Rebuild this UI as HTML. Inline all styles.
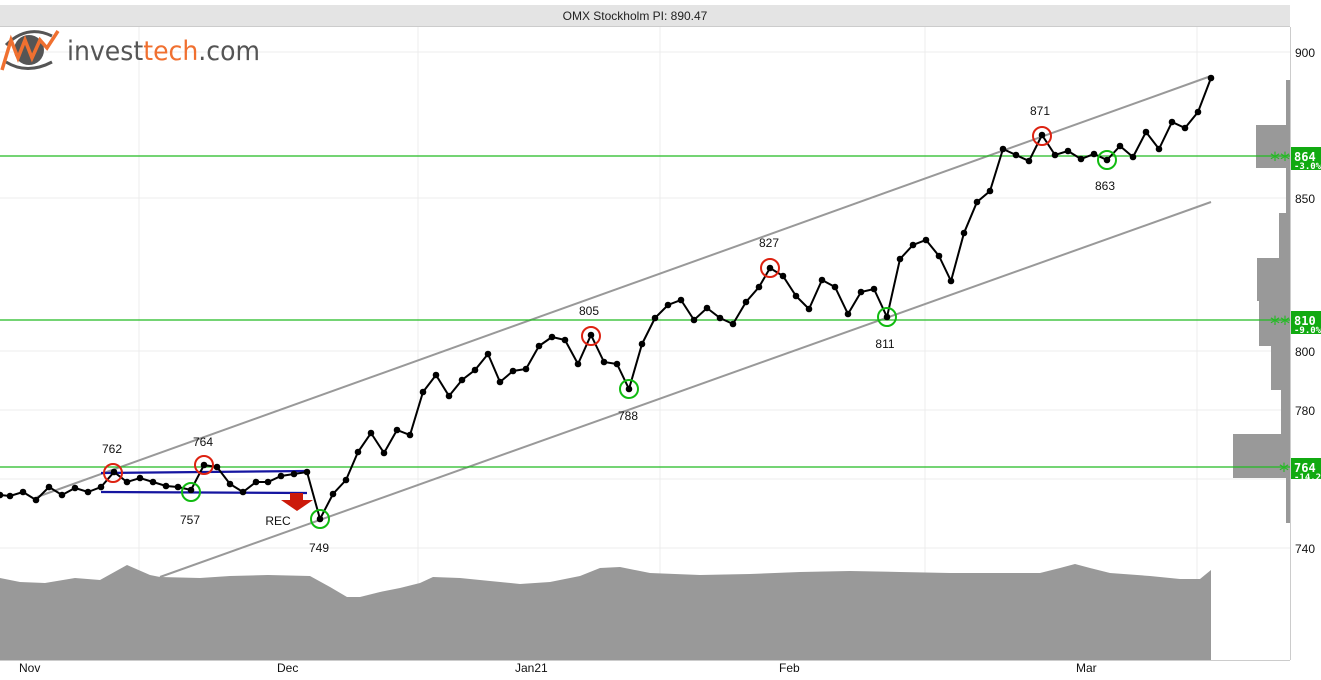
<!DOCTYPE html>
<html><head><style>
body{margin:0;background:#fff;}
svg{display:block;font-family:"Liberation Sans",sans-serif;}
</style></head><body>
<svg width="1321" height="680" viewBox="0 0 1321 680" xmlns="http://www.w3.org/2000/svg">
<rect x="0" y="0" width="1321" height="680" fill="#fff"/>
<rect x="0" y="5" width="1290" height="22" fill="#e4e4e4"/>
<line x1="0" y1="26.5" x2="1290" y2="26.5" stroke="#ccc"/>
<text x="635" y="20" font-size="12" text-anchor="middle" fill="#222">OMX Stockholm PI: 890.47</text>
<!-- grid -->
<g stroke="#ececec" stroke-width="1">
<line x1="0" y1="52" x2="1290" y2="52"/><line x1="0" y1="198" x2="1290" y2="198"/>
<line x1="0" y1="351" x2="1290" y2="351"/><line x1="0" y1="410" x2="1290" y2="410"/>
<line x1="0" y1="479" x2="1290" y2="479"/><line x1="0" y1="548" x2="1290" y2="548"/>
<line x1="139" y1="27" x2="139" y2="660"/><line x1="418" y1="27" x2="418" y2="660"/>
<line x1="660" y1="27" x2="660" y2="660"/><line x1="925" y1="27" x2="925" y2="660"/>
<line x1="1197" y1="27" x2="1197" y2="660"/>
</g>
<line x1="1290.5" y1="27" x2="1290.5" y2="660" stroke="#ccc"/>
<line x1="0" y1="660.5" x2="1290" y2="660.5" stroke="#ccc"/>
<!-- volume -->
<polygon fill="#999" points="0,660 0,578 20,582 45,583 75,578 100,580 127,565 150,575 160,577 200,578 230,576 268,575 310,576 330,587 347,597 360,597 380,592 400,588 420,583 433,577 460,578 490,581 520,584 550,582 580,576 600,568 620,567 650,573 700,575 750,574 800,572 850,571 900,572 950,573 1000,573 1040,573 1060,568 1075,564 1090,568 1110,573 1150,576 1180,579 1200,579 1211,570 1211,660"/>
<!-- volume profile -->
<g fill="#999">
<rect x="1286" y="80" width="4" height="45"/>
<rect x="1256" y="125" width="34" height="43"/>
<rect x="1286" y="168" width="4" height="45"/>
<rect x="1279" y="213" width="11" height="45"/>
<rect x="1257" y="258" width="33" height="43"/>
<rect x="1259" y="301" width="31" height="45"/>
<rect x="1271" y="346" width="19" height="44"/>
<rect x="1281" y="390" width="9" height="44"/>
<rect x="1233" y="434" width="57" height="44"/>
<rect x="1286" y="478" width="4" height="45"/>
</g>
<!-- channel -->
<line x1="37" y1="497" x2="1211" y2="76" stroke="#999" stroke-width="2"/>
<line x1="160" y1="577" x2="1211" y2="202" stroke="#999" stroke-width="2"/>
<!-- support/resistance -->
<g stroke="#22bb22" stroke-width="1.3">
<line x1="0" y1="156" x2="1290" y2="156"/>
<line x1="0" y1="320" x2="1290" y2="320"/>
<line x1="0" y1="467" x2="1290" y2="467"/>
</g>
<!-- rectangle -->
<g stroke="#1515a0" stroke-width="2.2">
<line x1="101" y1="473" x2="307" y2="471"/>
<line x1="101" y1="492" x2="307" y2="493"/>
</g>
<polygon fill="#cc1a0a" points="290,493 303,493 303,500 313,500 297,511 281,500 290,500"/>
<!-- price -->
<polyline fill="none" stroke="#000" stroke-width="2" points="0,495 10,496 23,492 36,500 49,487 62,495 75,488 88,492 101,487 114,472 127,482 140,478 153,482 166,486 178,487 191,490 204,465 217,467 230,484 243,492 256,482 268,482 281,476 294,474 307,472 320,519 333,494 346,480 358,452 371,433 384,453 397,430 410,435 423,392 436,375 449,396 462,380 475,370 488,354 500,382 513,371 526,369 539,346 552,337 565,340 578,364 591,335 604,362 617,364 629,389 642,344 655,318 668,305 681,300 694,320 707,308 720,318 733,324 746,302 759,287 770,268 783,276 796,296 809,309 822,280 835,287 848,314 861,292 874,289 887,317 900,259 913,245 926,240 939,256 951,281 964,233 977,202 990,191 1003,149 1016,155 1029,161 1042,135 1055,155 1068,151 1081,159 1094,154 1107,160 1120,146 1133,157 1146,132 1159,149 1172,122 1185,128 1198,112 1211,78"/>
<g fill="#000">
<circle cx="0" cy="495" r="3.3"/><circle cx="10" cy="496" r="3.3"/><circle cx="23" cy="492" r="3.3"/><circle cx="36" cy="500" r="3.3"/><circle cx="49" cy="487" r="3.3"/><circle cx="62" cy="495" r="3.3"/><circle cx="75" cy="488" r="3.3"/><circle cx="88" cy="492" r="3.3"/><circle cx="101" cy="487" r="3.3"/><circle cx="114" cy="472" r="3.3"/><circle cx="127" cy="482" r="3.3"/><circle cx="140" cy="478" r="3.3"/><circle cx="153" cy="482" r="3.3"/><circle cx="166" cy="486" r="3.3"/><circle cx="178" cy="487" r="3.3"/><circle cx="191" cy="490" r="3.3"/><circle cx="204" cy="465" r="3.3"/><circle cx="217" cy="467" r="3.3"/><circle cx="230" cy="484" r="3.3"/><circle cx="243" cy="492" r="3.3"/><circle cx="256" cy="482" r="3.3"/><circle cx="268" cy="482" r="3.3"/><circle cx="281" cy="476" r="3.3"/><circle cx="294" cy="474" r="3.3"/><circle cx="307" cy="472" r="3.3"/><circle cx="320" cy="519" r="3.3"/><circle cx="333" cy="494" r="3.3"/><circle cx="346" cy="480" r="3.3"/><circle cx="358" cy="452" r="3.3"/><circle cx="371" cy="433" r="3.3"/><circle cx="384" cy="453" r="3.3"/><circle cx="397" cy="430" r="3.3"/><circle cx="410" cy="435" r="3.3"/><circle cx="423" cy="392" r="3.3"/><circle cx="436" cy="375" r="3.3"/><circle cx="449" cy="396" r="3.3"/><circle cx="462" cy="380" r="3.3"/><circle cx="475" cy="370" r="3.3"/><circle cx="488" cy="354" r="3.3"/><circle cx="500" cy="382" r="3.3"/><circle cx="513" cy="371" r="3.3"/><circle cx="526" cy="369" r="3.3"/><circle cx="539" cy="346" r="3.3"/><circle cx="552" cy="337" r="3.3"/><circle cx="565" cy="340" r="3.3"/><circle cx="578" cy="364" r="3.3"/><circle cx="591" cy="335" r="3.3"/><circle cx="604" cy="362" r="3.3"/><circle cx="617" cy="364" r="3.3"/><circle cx="629" cy="389" r="3.3"/><circle cx="642" cy="344" r="3.3"/><circle cx="655" cy="318" r="3.3"/><circle cx="668" cy="305" r="3.3"/><circle cx="681" cy="300" r="3.3"/><circle cx="694" cy="320" r="3.3"/><circle cx="707" cy="308" r="3.3"/><circle cx="720" cy="318" r="3.3"/><circle cx="733" cy="324" r="3.3"/><circle cx="746" cy="302" r="3.3"/><circle cx="759" cy="287" r="3.3"/><circle cx="770" cy="268" r="3.3"/><circle cx="783" cy="276" r="3.3"/><circle cx="796" cy="296" r="3.3"/><circle cx="809" cy="309" r="3.3"/><circle cx="822" cy="280" r="3.3"/><circle cx="835" cy="287" r="3.3"/><circle cx="848" cy="314" r="3.3"/><circle cx="861" cy="292" r="3.3"/><circle cx="874" cy="289" r="3.3"/><circle cx="887" cy="317" r="3.3"/><circle cx="900" cy="259" r="3.3"/><circle cx="913" cy="245" r="3.3"/><circle cx="926" cy="240" r="3.3"/><circle cx="939" cy="256" r="3.3"/><circle cx="951" cy="281" r="3.3"/><circle cx="964" cy="233" r="3.3"/><circle cx="977" cy="202" r="3.3"/><circle cx="990" cy="191" r="3.3"/><circle cx="1003" cy="149" r="3.3"/><circle cx="1016" cy="155" r="3.3"/><circle cx="1029" cy="161" r="3.3"/><circle cx="1042" cy="135" r="3.3"/><circle cx="1055" cy="155" r="3.3"/><circle cx="1068" cy="151" r="3.3"/><circle cx="1081" cy="159" r="3.3"/><circle cx="1094" cy="154" r="3.3"/><circle cx="1107" cy="160" r="3.3"/><circle cx="1120" cy="146" r="3.3"/><circle cx="1133" cy="157" r="3.3"/><circle cx="1146" cy="132" r="3.3"/><circle cx="1159" cy="149" r="3.3"/><circle cx="1172" cy="122" r="3.3"/><circle cx="1185" cy="128" r="3.3"/><circle cx="1198" cy="112" r="3.3"/><circle cx="1211" cy="78" r="3.3"/>
</g>
<!-- pivots -->
<g fill="none" stroke-width="2">
<g stroke="#dd2211">
<circle cx="113" cy="473" r="9"/><circle cx="204" cy="465" r="9"/><circle cx="591" cy="336" r="9"/><circle cx="770" cy="268" r="9"/><circle cx="1042" cy="136" r="9"/>
</g>
<g stroke="#11bb11">
<circle cx="191" cy="492" r="9"/><circle cx="320" cy="519" r="9"/><circle cx="629" cy="389" r="9"/><circle cx="887" cy="317" r="9"/><circle cx="1107" cy="160" r="9"/>
</g>
</g>
<g font-size="12" fill="#111" text-anchor="middle">
<text x="112" y="453">762</text><text x="203" y="446">764</text><text x="190" y="524">757</text>
<text x="319" y="552">749</text><text x="589" y="315">805</text><text x="628" y="420">788</text>
<text x="769" y="247">827</text><text x="885" y="348">811</text><text x="1040" y="115">871</text>
<text x="1105" y="190">863</text><text x="278" y="525">REC</text>
</g>
<!-- axis labels -->
<g font-size="12" fill="#111">
<text x="1295" y="57">900</text><text x="1295" y="203">850</text><text x="1295" y="356">800</text>
<text x="1295" y="415">780</text><text x="1295" y="553">740</text>
</g>
<g font-size="12" fill="#111">
<text x="19" y="672">Nov</text><text x="277" y="672">Dec</text><text x="515" y="672">Jan21</text>
<text x="779" y="672">Feb</text><text x="1076" y="672">Mar</text>
</g>
<!-- level tags -->
<g font-family="'DejaVu Sans Mono','Liberation Mono',monospace" font-weight="bold">
<rect x="1291" y="147" width="30" height="23" fill="#11aa11"/>
<text x="1294" y="161" font-size="12" fill="#fff">864</text><text x="1294" y="169" font-size="9" fill="#fff">-3.0%</text>
<rect x="1291" y="311" width="30" height="23" fill="#11aa11"/>
<text x="1294" y="325" font-size="12" fill="#fff">810</text><text x="1294" y="333" font-size="9" fill="#fff">-9.0%</text>
<rect x="1291" y="458" width="30" height="21" fill="#11aa11"/>
<text x="1294" y="472" font-size="12" fill="#fff">764</text><text x="1294" y="480" font-size="9" fill="#fff">-14.2</text>
</g>
<g font-family="'DejaVu Sans',sans-serif" font-size="20" fill="#22bb22">
<text x="1270" y="167">**</text>
<text x="1270" y="331">**</text>
<text x="1279" y="478">*</text>
</g>
<!-- logo -->
<g>
<path d="M6,45 Q27,24 52,36" fill="none" stroke="#555" stroke-width="3"/>
<path d="M6,62 Q27,75 52,62" fill="none" stroke="#555" stroke-width="3"/>
<circle cx="29" cy="50" r="15" fill="#555"/>
<polyline points="2,70 11,40 18,58 25,40 32,58 40,40 47,48 58,31" fill="none" stroke="#f07030" stroke-width="3.5"/>
<text x="67" y="60" font-size="27" fill="#555" font-family="'DejaVu Sans','Liberation Sans',sans-serif" textLength="193" lengthAdjust="spacingAndGlyphs">invest<tspan fill="#f07030">tech</tspan>.com</text>
</g>
</svg>
</body></html>
